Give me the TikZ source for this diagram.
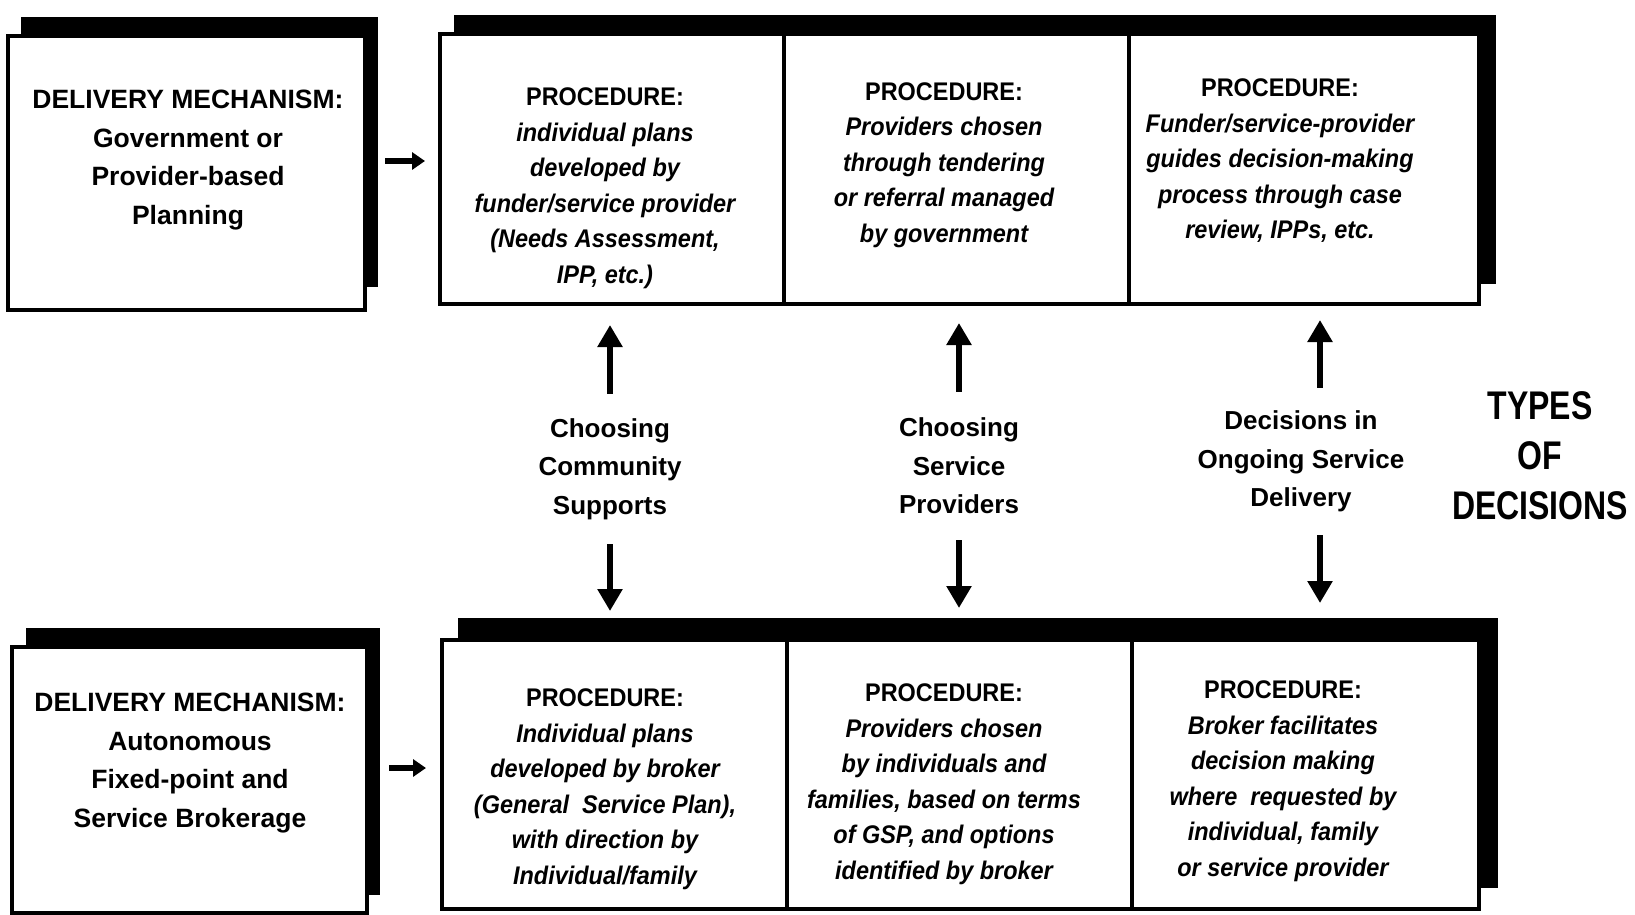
\documentclass[tikz,border=0pt]{standalone}
\usepackage{fontspec}
\setmainfont{Liberation Sans}
\newfontfamily\condfont[FakeStretch=0.8]{Liberation Sans}
\newfontfamily\procfont[FakeStretch=0.92]{Liberation Sans}
\usetikzlibrary{arrows.meta}
\begin{document}
\begin{tikzpicture}[x=1pt,y=-1pt,
  cellbox/.style={draw=black,line width=4pt,fill=white,inner sep=0pt,minimum height=270pt},
  mechbox/.style={draw=black,line width=4pt,fill=white,inner sep=0pt},
  shadowfill/.style={fill=black},
  mechtext/.style={align=center,inner sep=0pt,font={\fontsize{26.5}{38.5}\selectfont\bfseries}},
  proctext/.style={align=center,inner sep=0pt,font={\procfont\fontsize{25.5}{35.5}\selectfont\bfseries\itshape}},
  labtext/.style={align=center,inner sep=0pt,font={\fontsize{26}{38.5}\selectfont\bfseries}},
  typestext/.style={align=center,inner sep=0pt,font={\condfont\fontsize{40}{50}\selectfont\bfseries}},
  varr/.style={line width=6.5pt,-{Triangle[width=24pt,length=22pt]}},
  harr/.style={line width=6.5pt,-{Triangle[width=17pt,length=13pt]}}
]
\useasboundingbox (0,0) rectangle (1635,914);
\fill[white] (0,0) rectangle (1635,914);

% shadows
\fill[shadowfill] (21,17) rectangle (378,287);
\fill[shadowfill] (26,628) rectangle (380,895);
\fill[shadowfill] (454,15) rectangle (1496,284);
\fill[shadowfill] (458,618) rectangle (1498,888);

% delivery mechanism boxes
\node[mechbox,minimum width=357pt,minimum height=274pt] (d1) at (186.5,173) {};
\node[mechbox,minimum width=355pt,minimum height=266pt] (d2) at (189.5,780) {};
\node[mechtext] (d1t) at (188,160) {DELIVERY MECHANISM:\\Government or\\Provider-based\\Planning};
\node[mechtext] (d2t) at (190,763) {DELIVERY MECHANISM:\\Autonomous\\Fixed-point and\\Service Brokerage};

% procedure cells, top row
\node[cellbox,minimum width=344pt] (p1) at (612,169) {};
\node[cellbox,minimum width=345pt] (p2) at (956.5,169) {};
\node[cellbox,minimum width=350pt] (p3) at (1304,169) {};
% bottom row
\node[cellbox,minimum width=345pt,minimum height=269pt] (q1) at (614.5,774.5) {};
\node[cellbox,minimum width=345pt,minimum height=269pt] (q2) at (959.5,774.5) {};
\node[cellbox,minimum width=347pt,minimum height=269pt] (q3) at (1305.5,774.5) {};

% procedure texts
\node[proctext] (p1t) at (605,188) {\textup{PROCEDURE:}\\individual plans\\developed by\\funder/service provider\\(Needs Assessment,\\IPP, etc.)};
\node[proctext] (p2t) at (944,165) {\textup{PROCEDURE:}\\Providers chosen\\through tendering\\or referral managed\\by government};
\node[proctext] (p3t) at (1280,161) {\textup{PROCEDURE:}\\Funder/service-provider\\guides decision-making\\process through case\\review, IPPs, etc.};
\node[proctext] (q1t) at (605,789) {\textup{PROCEDURE:}\\Individual plans\\developed by broker\\(General\ \ Service Plan),\\with direction by\\Individual/family};
\node[proctext] (q2t) at (944,784) {\textup{PROCEDURE:}\\Providers chosen\\by individuals and\\families, based on terms\\of GSP, and options\\identified by broker};
\node[proctext] (q3t) at (1283,781) {\textup{PROCEDURE:}\\Broker facilitates\\decision making\\where\ \ requested by\\individual, family\\or service provider};

% decision labels
\node[labtext,minimum height=150pt] (l1) at (610,469) {Choosing\\Community\\Supports};
\node[labtext,minimum height=148pt] (l2) at (959,466) {Choosing\\Service\\Providers};
\node[labtext,minimum height=147pt] (l3) at (1301,461.5) {Decisions in\\Ongoing Service\\Delivery};
\node[typestext] (ty) at (1540,456) {TYPES\\OF\\DECISIONS};

% vertical arrows
\draw[varr,shorten >=19pt] (l1.north) -- (l1.north |- p1.south);
\draw[varr,shorten >=27pt] (l1.south) -- (l1.south |- q1.north);
\draw[varr,shorten >=17pt] (l2.north) -- (l2.north |- p2.south);
\draw[varr,shorten >=30pt] (l2.south) -- (l2.south |- q2.north);
\draw[varr,shorten >=14pt] ([xshift=19pt]l3.north) -- ([xshift=19pt]l3.north |- p3.south);
\draw[varr,shorten >=35pt] ([xshift=19pt]l3.south) -- ([xshift=19pt]l3.south |- q3.north);

% horizontal arrows
\draw[harr,shorten <=18pt,shorten >=13pt] ([yshift=12pt]d1.east) -- ([yshift=12pt]d1.east -| p1.west);
\draw[harr,shorten <=20pt,shorten >=14pt] ([yshift=12pt]d2.east) -- ([yshift=12pt]d2.east -| q1.west);
\end{tikzpicture}
\end{document}
